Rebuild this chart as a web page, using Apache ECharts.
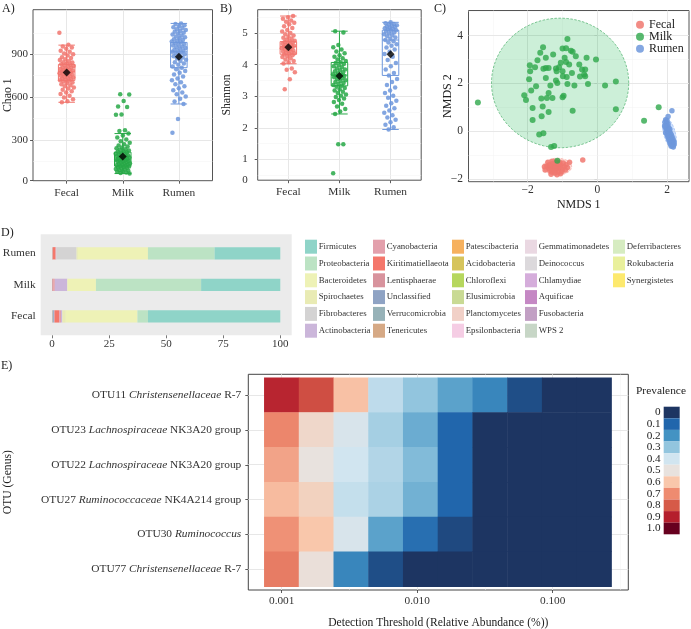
<!DOCTYPE html>
<html><head><meta charset="utf-8">
<script src="https://cdn.jsdelivr.net/npm/echarts@6/dist/echarts.min.js"></script>
<style>html,body{margin:0;padding:0;background:#fff}#c{width:691px;height:629px}</style>
</head><body><div id="c"></div>
<script>
// ---------- DATA ----------
const groups = ['Fecal', 'Milk', 'Rumen'];

// Panel A: Chao 1 richness per sample
const chaoFecal = [1050, 966, 955, 948, 938, 925, 918, 905, 900, 892, 880, 874, 866, 860, 851, 845, 842, 836, 830, 826, 822, 818, 812, 808, 805, 800, 797, 792, 788, 785, 781, 778, 775, 772, 768, 765, 761, 758, 755, 750, 747, 742, 738, 735, 730, 726, 722, 718, 714, 709, 703, 698, 690, 684, 676, 668, 660, 651, 642, 633, 622, 610, 598, 585, 572, 565];
const chaoMilk = [620, 618, 573, 535, 531, 478, 476, 369, 363, 345, 331, 318, 304, 291, 280, 271, 262, 255, 248, 242, 236, 231, 226, 221, 217, 212, 208, 204, 200, 196, 193, 189, 186, 183, 180, 177, 174, 171, 168, 165, 162, 159, 156, 153, 150, 147, 144, 141, 138, 135, 132, 129, 126, 123, 120, 117, 114, 111, 108, 105, 101, 97, 93, 89, 85, 81, 77, 73, 69, 66];
const chaoRumen = [1116, 1112, 1104, 1097, 1090, 1084, 1076, 1070, 1063, 1057, 1050, 1045, 1038, 1032, 1025, 1019, 1012, 1006, 1000, 995, 989, 984, 978, 972, 967, 961, 955, 950, 944, 938, 932, 926, 921, 917, 912, 906, 900, 893, 886, 878, 870, 862, 853, 845, 836, 826, 815, 806, 795, 783, 770, 758, 745, 731, 718, 704, 690, 676, 662, 648, 632, 620, 605, 588, 570, 552, 447, 351];
const chaoBox = [[564, 717, 778, 829, 964], [65, 118, 160, 215, 345], [552, 806, 917, 983, 1116]];
const chaoMean = [773, 185, 882];

// Panel B: Shannon diversity per sample
const shanFecal = [5.54, 5.50, 5.45, 5.40, 5.36, 5.33, 5.28, 5.22, 5.16, 5.10, 5.05, 5.00, 4.96, 4.92, 4.88, 4.85, 4.82, 4.79, 4.76, 4.74, 4.72, 4.70, 4.68, 4.66, 4.64, 4.62, 4.60, 4.58, 4.57, 4.56, 4.54, 4.52, 4.50, 4.48, 4.46, 4.44, 4.42, 4.40, 4.38, 4.36, 4.34, 4.32, 4.30, 4.27, 4.24, 4.20, 4.16, 4.12, 4.08, 4.04, 3.88, 3.84, 3.76, 3.54, 3.22];
const shanMilk = [5.06, 5.02, 4.62, 4.55, 4.48, 4.42, 4.36, 4.30, 4.25, 4.20, 4.16, 4.12, 4.08, 4.05, 4.02, 3.98, 3.95, 3.92, 3.88, 3.85, 3.82, 3.79, 3.76, 3.73, 3.70, 3.68, 3.66, 3.64, 3.62, 3.60, 3.57, 3.54, 3.51, 3.48, 3.45, 3.42, 3.39, 3.36, 3.33, 3.30, 3.26, 3.22, 3.18, 3.14, 3.10, 3.06, 3.02, 2.98, 2.93, 2.88, 2.82, 2.76, 2.68, 2.60, 2.52, 2.44, 1.48, 1.48, 0.56];
const shanRumen = [5.34, 5.31, 5.29, 5.27, 5.25, 5.23, 5.21, 5.19, 5.17, 5.15, 5.13, 5.11, 5.09, 5.07, 5.05, 5.02, 4.99, 4.96, 4.93, 4.90, 4.86, 4.82, 4.78, 4.74, 4.70, 4.65, 4.60, 4.54, 4.48, 4.41, 4.34, 4.25, 4.15, 4.05, 3.95, 3.85, 3.74, 3.66, 3.55, 3.45, 3.36, 3.28, 3.18, 3.10, 3.02, 2.95, 2.86, 2.78, 2.70, 2.62, 2.55, 2.48, 2.40, 2.33, 2.26, 2.18, 2.10, 2.02, 1.95];
const shanBox = [[4.03, 4.33, 4.57, 4.73, 5.54], [2.44, 3.33, 3.67, 4.07, 5.06], [1.95, 3.66, 4.78, 5.09, 5.34]];
const shanMean = [4.55, 3.64, 4.33];

// Panel C: NMDS ordination
const nmdsMilk = [[-3.43,1.20],[-0.86,3.86],[-1.56,3.51],[-1.64,3.28],[-1.00,3.46],[-0.90,3.47],[-0.76,3.37],[-0.71,3.32],[-1.27,3.21],[-1.48,3.07],[-1.72,2.97],[-1.94,2.76],[-1.79,2.68],[-1.93,2.51],[-1.96,2.17],[-1.48,2.65],[-1.40,2.65],[-1.48,2.23],[-1.19,2.62],[-1.10,2.68],[-1.17,2.51],[-1.00,2.51],[-0.90,2.90],[-0.94,3.07],[-1.05,2.86],[-0.81,2.79],[-0.73,2.44],[-0.62,3.14],[-0.52,2.79],[-0.44,2.58],[-0.35,2.58],[-0.50,2.29],[-0.35,2.30],[-0.31,3.07],[-0.04,3.00],[-0.27,1.98],[0.22,1.91],[0.53,2.08],[0.53,0.92],[-1.19,2.12],[-1.15,2.02],[-1.35,1.91],[-0.86,1.98],[-0.66,1.91],[-0.99,2.30],[-0.88,2.27],[-1.76,1.88],[-1.90,1.70],[-2.10,1.51],[-2.05,1.31],[-1.40,1.60],[-1.45,1.39],[-1.61,1.37],[-1.29,1.39],[-1.00,1.42],[-0.97,1.48],[-1.86,0.97],[-1.57,1.03],[-1.40,0.81],[-0.71,0.86],[-1.86,0.47],[-1.60,0.63],[-1.67,-0.14],[-1.55,-0.08],[-1.33,-0.66],[-1.24,-0.62],[-1.55,2.61],[-0.38,2.37],[1.34,0.44],[1.76,1.00],[-1.15,-1.23]];
const nmdsFecal = [[-1.17,-1.50],[-1.25,-1.45],[-1.10,-1.55],[-1.30,-1.60],[-1.05,-1.42],[-1.20,-1.62],[-1.35,-1.50],[-1.00,-1.58],[-1.15,-1.38],[-1.28,-1.35],[-1.40,-1.55],[-1.12,-1.70],[-0.95,-1.48],[-1.22,-1.75],[-1.45,-1.45],[-1.08,-1.30],[-1.32,-1.70],[-0.90,-1.40],[-1.50,-1.62],[-1.18,-1.28],[-1.38,-1.40],[-1.02,-1.68],[-1.26,-1.52],[-1.14,-1.58],[-0.86,-1.52],[-1.42,-1.30],[-1.06,-1.78],[-1.33,-1.80],[-1.19,-1.43],[-1.24,-1.66],[-0.98,-1.33],[-1.09,-1.47],[-1.37,-1.63],[-1.16,-1.82],[-1.29,-1.25],[-0.80,-1.30],[-1.52,-1.48],[-0.92,-1.62],[-1.21,-1.55],[-1.11,-1.36],[-0.42,-1.20]];
const nmdsRumen = [[1.96,0.48],[2.00,0.44],[1.94,0.38],[1.99,0.35],[2.03,0.30],[1.97,0.26],[2.02,0.20],[1.95,0.16],[2.05,0.14],[2.00,0.10],[1.98,0.04],[2.06,0.02],[2.02,-0.02],[1.96,-0.06],[2.09,-0.06],[2.04,-0.10],[2.00,-0.14],[2.12,-0.14],[2.07,-0.18],[2.02,-0.22],[2.14,-0.22],[2.09,-0.26],[2.04,-0.30],[2.16,-0.30],[2.11,-0.34],[2.06,-0.38],[2.18,-0.38],[2.13,-0.42],[2.08,-0.46],[2.20,-0.46],[2.15,-0.50],[2.10,-0.54],[2.20,-0.55],[2.16,-0.60],[2.12,-0.63],[2.18,-0.66],[1.93,0.22],[2.08,0.08],[2.03,0.62],[2.14,0.86]];
// confidence ellipses: [centerX, centerY, semiAxisA, semiAxisB, angle(rad)]
const ellMilk = [-1.07, 2.02, 1.97, 2.71, 0];
const ellFecal = [-1.15, -1.48, 0.41, 0.35, 0];
const ellRumen = [2.07, -0.09, 0.66, 0.17, -1.403];

// Panel D: relative abundance (%) of phyla
const phyla = ['Firmicutes','Proteobacteria','Bacteroidetes','Spirochaetes','Fibrobacteres','Actinobacteria','Cyanobacteria','Kiritimatiellaeota','Lentisphaerae','Unclassified','Verrucomicrobia','Tenericutes','Patescibacteria','Acidobacteria','Chloroflexi','Elusimicrobia','Planctomycetes','Epsilonbacteria','Gemmatimonadetes','Deinococcus','Chlamydiae','Aquificae','Fusobacteria','WPS 2','Deferribacteres','Rokubacteria','Synergistetes'];
const abFecal = [58.0, 4.6, 31.4, 1.5, 0.1, 0.5, 0.8, 2.0, 0.2, 0.4, 0.3, 0.2, 0, 0, 0, 0, 0, 0, 0, 0, 0, 0, 0, 0, 0, 0, 0];
const abMilk  = [34.7, 46.1, 12.4, 0.2, 0, 5.4, 0.6, 0.4, 0, 0.2, 0, 0, 0, 0, 0, 0, 0, 0, 0, 0, 0, 0, 0, 0, 0, 0, 0];
const abRumen = [28.8, 29.2, 30.7, 0.6, 8.8, 0.1, 0.3, 1.1, 0.2, 0, 0, 0.2, 0, 0, 0, 0, 0, 0, 0, 0, 0, 0, 0, 0, 0, 0, 0];

// Panel E: core microbiome prevalence heatmap
const thresholds = ['0.0010','0.0018','0.0033','0.0059','0.0106','0.0191','0.0345','0.0622','0.1121','0.2021'];
const otuIds = ['OTU11','OTU23','OTU22','OTU27','OTU30','OTU77'];
const otuGenus = ['Christensenellaceae','Lachnospiraceae','Lachnospiraceae','Ruminococcaceae','Ruminococcus','Christensenellaceae'];
const otuSuffix = ['R-7','NK3A20 group','NK3A20 group','NK4A214 group','','R-7'];
const prevOTU11 = [0.89, 0.82, 0.61, 0.37, 0.30, 0.23, 0.17, 0.05, 0, 0];
const prevOTU23 = [0.71, 0.54, 0.43, 0.33, 0.25, 0.10, 0, 0, 0, 0];
const prevOTU22 = [0.66, 0.50, 0.40, 0.35, 0.28, 0.10, 0, 0, 0, 0];
const prevOTU27 = [0.62, 0.56, 0.38, 0.34, 0.26, 0.10, 0, 0, 0, 0];
const prevOTU30 = [0.69, 0.60, 0.43, 0.23, 0.12, 0.04, 0, 0, 0, 0];
const prevOTU77 = [0.73, 0.51, 0.17, 0.05, 0, 0, 0, 0, 0, 0];
const prevTicks = [0, 0.1, 0.2, 0.3, 0.4, 0.5, 0.6, 0.7, 0.8, 0.9, 1.0];
const prevTickLabels = ['0','0.1','0.2','0.3','0.4','0.5','0.6','0.7','0.8','0.9','1.0'];

// ---------- STYLES ----------
const F = 'Liberation Serif';
const GCOL = ['#f1766e', '#27a846', '#6d97dc'];
const phylumColors = ['#8fd4c8','#bce3c4','#eef2b6','#e9ebb4','#d4d3d3','#cbb6da','#e3a0ac','#f4776b','#d8939d','#8fa3c4','#97b2b8','#d6a985','#f6b15f','#d6c45c','#b6d75e','#c9da94','#f1d0c7','#f5cde4','#ead8e2','#dcd9dc','#d5addb','#c588c4','#c2a0c4','#c7d6c6','#d6ecc1','#e9f09c','#fde96e'];
const prevColors = ['#1d3562','#2166ac','#4393c3','#92c5de','#d1e5f0','#e8e2de','#f9c7ab','#ee8b70','#d65a48','#b51f2d','#67001f'];

const txt = (size, color) => ({fontFamily: F, fontSize: size, color: color || '#333'});
const tk = (vals, color) => ({show: true, customValues: vals, length: 3, lineStyle: {color: color || '#333', width: 0.8}});
const lb = (vals, fmt, margin, size) => Object.assign({show: true, customValues: vals, formatter: fmt, margin: margin}, txt(size || 11.2));
const nm = (size) => ({fontFamily: F, fontSize: size || 11.8, color: '#222'});
const minusFmt = v => (v < 0 ? '\u2212' : '') + Math.abs(v);
const jit = (j, seed) => ((((j + seed) * 0.6180339887) % 1) - 0.5) * 0.26;

function gl(ai, majX, minX, majY, minY) {
  const M = {color: '#e4e4e4', width: 0.9, type: 'solid'};
  const m = {color: '#f2f2f2', width: 0.5, type: 'solid'};
  const d = [];
  majX.forEach(v => d.push({xAxis: v, lineStyle: M}));
  minX.forEach(v => d.push({xAxis: v, lineStyle: m}));
  majY.forEach(v => d.push({yAxis: v, lineStyle: M}));
  minY.forEach(v => d.push({yAxis: v, lineStyle: m}));
  return {type: 'scatter', xAxisIndex: ai, yAxisIndex: ai, data: [], silent: true,
    markLine: {silent: true, symbol: ['none', 'none'], label: {show: false}, z: 1, animation: false, data: d}};
}

function ellipse(e, fill, stroke) {
  return {type: 'custom', xAxisIndex: 2, yAxisIndex: 2, silent: true, z: 1.5, data: [e],
    renderItem: function (params, api) {
      const cx = api.value(0), cy = api.value(1), a = api.value(2), b = api.value(3), th = api.value(4);
      const pts = [];
      for (let k = 0; k < 90; k++) {
        const t = k / 90 * 2 * Math.PI;
        pts.push(api.coord([cx + a * Math.cos(t) * Math.cos(th) - b * Math.sin(t) * Math.sin(th),
                            cy + a * Math.cos(t) * Math.sin(th) + b * Math.sin(t) * Math.cos(th)]));
      }
      return {type: 'polygon', shape: {points: pts}, style: {fill: fill, stroke: stroke, lineWidth: 0.8, lineDash: [2.5, 1.5]}};
    }};
}

// ---------- SERIES ----------
const series = [];
series.push(gl(0, [1, 2, 3], [], [300, 600, 900], [150, 450, 750, 1050]));
series.push(gl(1, [1, 2, 3], [], [1, 2, 3, 4, 5], [0.5, 1.5, 2.5, 3.5, 4.5, 5.5]));
series.push(gl(2, [-2, 0, 2], [-3, -1, 1], [-2, 0, 2, 4], [-1, 1, 3, 5]));
series.push(gl(5, [-3, -2, -1], [-2.5, -1.5, -0.5], [1, 2, 3, 4, 5, 6], []));

function boxPanel(ai, data, box, mean, tag) {
  series.push({type: 'boxplot', xAxisIndex: ai, yAxisIndex: ai, silent: true, boxWidth: [16.5, 16.5],
    data: groups.map((g, i) => ({value: [i + 1].concat(box[i]), itemStyle: {color: 'rgba(255,255,255,0)', borderColor: GCOL[i], borderWidth: 1}}))});
  data.forEach((arr, i) => series.push({type: 'scatter', name: tag + groups[i], xAxisIndex: ai, yAxisIndex: ai, silent: true,
    symbolSize: 4.5, itemStyle: {color: GCOL[i], opacity: 0.85},
    data: arr.map((v, j) => [i + 1 + jit(j, i * 7 + ai * 3), v])}));
  series.push({type: 'scatter', xAxisIndex: ai, yAxisIndex: ai, silent: true, z: 4, symbol: 'diamond', symbolSize: 8,
    itemStyle: {color: '#000'}, data: mean.map((v, i) => [i + 1, v])});
}
boxPanel(0, [chaoFecal, chaoMilk, chaoRumen], chaoBox, chaoMean, 'A ');
boxPanel(1, [shanFecal, shanMilk, shanRumen], shanBox, shanMean, 'B ');

series.push(ellipse(ellMilk, 'rgba(0,176,60,0.2)', '#5db77a'));
series.push(ellipse(ellFecal, 'rgba(248,118,109,0.28)', '#f6a7a0'));
series.push(ellipse(ellRumen, 'rgba(97,156,255,0.3)', '#9dbdf0'));
series.push({type: 'scatter', name: 'Fecal', xAxisIndex: 2, yAxisIndex: 2, silent: true, symbolSize: 5.5, itemStyle: {color: '#f07870', opacity: 0.85}, data: nmdsFecal});
series.push({type: 'scatter', name: 'Milk', xAxisIndex: 2, yAxisIndex: 2, silent: true, symbolSize: 6, itemStyle: {color: '#2ea84b'}, data: nmdsMilk});
series.push({type: 'scatter', name: 'Rumen', xAxisIndex: 2, yAxisIndex: 2, silent: true, symbolSize: 5.5, itemStyle: {color: '#6f98dc', opacity: 0.85}, data: nmdsRumen});

for (let k = phyla.length - 1; k >= 0; k--) {
  series.push({type: 'bar', name: phyla[k], stack: 'ab', xAxisIndex: 4, yAxisIndex: 4, barWidth: 12.3, silent: true,
    itemStyle: {color: phylumColors[k]}, data: [abFecal[k], abMilk[k], abRumen[k]]});
}

const prevRows = [prevOTU11, prevOTU23, prevOTU22, prevOTU27, prevOTU30, prevOTU77];
const heatData = [];
prevRows.forEach((row, r) => row.forEach((v, c) => heatData.push([c, 5 - r, v])));
const heatIdx = series.length;
series.push({type: 'heatmap', xAxisIndex: 6, yAxisIndex: 6, data: heatData, silent: true, itemStyle: {borderWidth: 0}, progressive: 0});
const dummyIdx = series.length;
series.push({type: 'scatter', xAxisIndex: 5, yAxisIndex: 5, data: [], silent: true});

const otuCats = otuIds.map((id, r) => id + ' ' + otuGenus[r] + (otuSuffix[r] ? ' ' + otuSuffix[r] : '')).reverse();

// ---------- OPTION ----------
const gridBase = {show: true, borderColor: '#555', borderWidth: 1, backgroundColor: '#fff', containLabel: false, outerBoundsMode: 'none'};
const nameOpts = (name, gap, size) => ({name: name, nameLocation: 'middle', nameGap: gap, nameMoveOverlap: false, nameTextStyle: nm(size)});
const option = {
  animation: false,
  backgroundColor: '#fff',
  title: [
    {text: 'A)', left: 2, top: 3, padding: 0, textStyle: Object.assign({fontWeight: 'normal'}, txt(12, '#222'))},
    {text: 'B)', left: 220, top: 3, padding: 0, textStyle: Object.assign({fontWeight: 'normal'}, txt(12, '#222'))},
    {text: 'C)', left: 434, top: 3, padding: 0, textStyle: Object.assign({fontWeight: 'normal'}, txt(12, '#222'))},
    {text: 'D)', left: 1, top: 227, padding: 0, textStyle: Object.assign({fontWeight: 'normal'}, txt(12, '#222'))},
    {text: 'E)', left: 1, top: 360, padding: 0, textStyle: Object.assign({fontWeight: 'normal'}, txt(12, '#222'))},
    {text: 'Prevalence', left: 636, top: 386, padding: 0, textStyle: Object.assign({fontWeight: 'normal'}, txt(11.4, '#222'))}
  ],
  grid: [
    Object.assign({left: 33, top: 9.7, width: 179.5, height: 171}, gridBase),
    Object.assign({left: 257.7, top: 9.7, width: 163.5, height: 170.5}, gridBase),
    Object.assign({left: 468.5, top: 10.5, width: 220.5, height: 171.2}, gridBase),
    {left: 40.7, top: 234.3, width: 251, height: 101, show: true, backgroundColor: '#ebebeb', borderWidth: 0, outerBoundsMode: 'none'},
    {left: 40.7, top: 237.5, width: 251, height: 94.7, show: false, outerBoundsMode: 'none'},
    Object.assign({left: 248.3, top: 374.3, width: 380, height: 215.7}, gridBase, {borderColor: '#444'}),
    {left: 264.3, top: 377.7, width: 347.3, height: 209, show: false, outerBoundsMode: 'none'}
  ],
  xAxis: [
    {gridIndex: 0, type: 'value', min: 0.4, max: 3.6, axisLine: {show: false}, splitLine: {show: false}, axisTick: tk([1, 2, 3]), axisLabel: lb([1, 2, 3], v => groups[Math.round(v) - 1], 6.5, 11.4)},
    {gridIndex: 1, type: 'value', min: 0.4, max: 3.6, axisLine: {show: false}, splitLine: {show: false}, axisTick: tk([1, 2, 3]), axisLabel: lb([1, 2, 3], v => groups[Math.round(v) - 1], 6.5, 11.4)},
    Object.assign({gridIndex: 2, type: 'value', min: -3.70, max: 2.63, axisLine: {show: false}, splitLine: {show: false}, axisTick: tk([-2, 0, 2]), axisLabel: lb([-2, 0, 2], minusFmt, 2.5, 11.5)},
      nameOpts('NMDS 1', 17, 12)),
    {gridIndex: 3, type: 'value', min: -5, max: 105, axisLine: {show: false}, splitLine: {show: false}, axisTick: tk([0, 25, 50, 75, 100], '#555'), axisLabel: lb([0, 25, 50, 75, 100], v => String(v), 3.5, 11)},
    {gridIndex: 4, type: 'value', min: -5, max: 105, show: false},
    Object.assign({gridIndex: 5, type: 'value', min: -3.2465, max: -0.442, axisLine: {show: false}, splitLine: {show: false}, axisTick: tk([-3, -2, -1]), axisLabel: lb([-3, -2, -1], v => Math.pow(10, v).toFixed(3), 6, 11.3)},
      nameOpts('Detection Threshold (Relative Abundance (%))', 27, 11.6)),
    {gridIndex: 6, type: 'category', data: thresholds, show: false}
  ],
  yAxis: [
    Object.assign({gridIndex: 0, type: 'value', min: 15, max: 1212, axisLine: {show: false}, splitLine: {show: false}, axisTick: tk([15, 300, 600, 900]), axisLabel: lb([15, 300, 600, 900], v => v < 100 ? '0' : String(v), 5, 11)},
      nameOpts('Chao 1', 19, 11.8)),
    Object.assign({gridIndex: 1, type: 'value', min: 0.344, max: 5.74, axisLine: {show: false}, splitLine: {show: false}, axisTick: tk([1, 2, 3, 4, 5]), axisLabel: lb([0.344, 1, 2, 3, 4, 5], v => v < 0.9 ? '0' : String(v), 10, 11)},
      nameOpts('Shannon', 25, 11.8)),
    Object.assign({gridIndex: 2, type: 'value', min: -2.11, max: 5.05, axisLine: {show: false}, splitLine: {show: false}, axisTick: tk([-2, 0, 2, 4]), axisLabel: lb([-2, 0, 2, 4], minusFmt, 5.5, 11.5)},
      nameOpts('NMDS 2', 15, 12)),
    {gridIndex: 3, type: 'value', min: 0, max: 1, show: false},
    {gridIndex: 4, type: 'category', data: groups, axisLine: {show: false}, axisTick: {show: false}, splitLine: {show: false}, axisLabel: Object.assign({margin: 5}, txt(11.4))},
    {gridIndex: 5, type: 'value', min: 0.404, max: 6.596, show: false},
    Object.assign({gridIndex: 6, type: 'category', data: otuCats, offset: 16, axisLine: {show: false}, splitLine: {show: false},
      axisTick: {show: true, alignWithLabel: true, length: 3, lineStyle: {color: '#333', width: 0.8}},
      axisLabel: {margin: 7, formatter: function (v, idx) {
          const r = 5 - idx;
          return '{n|' + otuIds[r] + ' }{i|' + otuGenus[r] + '}' + (otuSuffix[r] ? '{n| ' + otuSuffix[r] + '}' : '');
        },
        rich: {n: txt(11.4), i: Object.assign({fontStyle: 'italic'}, txt(11.4))}}},
      nameOpts('OTU (Genus)', 234, 11.6))
  ],
  legend: [
    {data: groups, left: 636, top: 18.8, orient: 'vertical', icon: 'circle', itemWidth: 8, itemHeight: 8, itemGap: 0, padding: 0, selectedMode: false,
      textStyle: Object.assign({lineHeight: 10.5}, txt(12, '#222'))}
  ].concat([[0, 6], [6, 12], [12, 18], [18, 24], [24, 27]].map((c, k) => ({
      data: phyla.slice(c[0], c[1]), left: [305, 373, 452, 525, 613][k], top: 239.7, orient: 'vertical', icon: 'rect',
      itemWidth: 12, itemHeight: 14, itemGap: 2.8, padding: 0, selectedMode: false,
      textStyle: Object.assign({lineHeight: 14, padding: [0, 0, 0, -3.3]}, txt(8.8))}))),
  visualMap: [
    {type: 'continuous', show: false, seriesIndex: heatIdx, dimension: 2, min: 0, max: 1, inRange: {color: prevColors}},
    {type: 'piecewise', seriesIndex: dummyIdx, orient: 'vertical', inverse: true, left: 646.7, top: 406.7, padding: 0,
      itemWidth: 16, itemHeight: 11.6, itemGap: 0, itemSymbol: 'rect', textGap: 3, selectedMode: false, hoverLink: false,
      pieces: prevTicks.map((t, i) => ({min: t - 0.05, max: t + 0.05, label: prevTickLabels[i], color: prevColors[i]})),
      textStyle: txt(11.2, '#222')}
  ],
  series: series
};

const chart = echarts.init(document.getElementById('c'), null, {renderer: 'canvas'});
chart.setOption(option);
</script>
</body></html>
